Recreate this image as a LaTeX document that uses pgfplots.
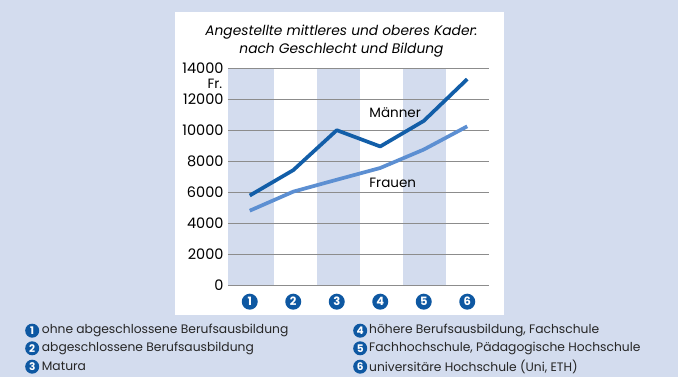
\documentclass[border=0pt]{standalone}
\usepackage{fontspec}
\setmainfont{Poppins}
\usepackage{pgfplots}
\pgfplotsset{compat=1.18}
\definecolor{bg}{RGB}{211,220,238}
\definecolor{mblue}{RGB}{18,94,168}
\definecolor{fblue}{RGB}{92,143,210}
\definecolor{cblue}{RGB}{14,88,162}
\definecolor{gridc}{RGB}{140,140,140}
\tikzset{numc/.style={circle,fill=cblue,text=white,font=\bfseries\fontsize{10.5}{10.5}\selectfont,inner sep=0pt,minimum size=14pt}}
\begin{document}
\begin{tikzpicture}[x=1pt,y=1pt]
\fill[bg] (0,0) rectangle (678,377);
\fill[white] (175,62) rectangle (504,365);
\node[font=\itshape\fontsize{13.8}{18.3}\selectfont,align=center] at (341.5,336) {Angestellte mittleres und oberes Kader:\\nach Geschlecht und Bildung};
\begin{axis}[
  at={(228pt,92pt)}, anchor=south west,
  scale only axis, width=261pt, height=216.7pt,
  xmin=0.5, xmax=6.5, ymin=0, ymax=14000,
  xtick={1,2,3,4,5,6},
  ytick={0,2000,4000,6000,8000,10000,12000,14000},
  scaled y ticks=false,
  axis line style={draw=none}, major tick length=0pt,
  /pgf/number format/assume math mode=true,
  /pgf/number format/1000 sep={},
  yticklabel style={font=\fontsize{14.5}{14.5}\selectfont, xshift=-1pt},
  xticklabel style={anchor=center, yshift=-16.7pt, circle, fill=cblue, text=white, font=\bfseries\fontsize{11.5}{11.5}\selectfont, inner sep=0pt, minimum size=16pt},
  clip=false,
]
\addplot[draw=none, fill=bg] coordinates {(0.5,0) (0.5,14000) (1.55,14000) (1.55,0)} -- cycle;
\addplot[draw=none, fill=bg] coordinates {(2.55,0) (2.55,14000) (3.53,14000) (3.53,0)} -- cycle;
\addplot[draw=none, fill=bg] coordinates {(4.52,0) (4.52,14000) (5.5,14000) (5.5,0)} -- cycle;
\pgfplotsinvokeforeach{0,2000,4000,6000,8000,10000,12000,14000}{
  \draw[gridc, line width=0.9pt] (axis cs:0.5,#1) -- (axis cs:6.5,#1);
}
\addplot[fblue, line width=3.7pt, line join=round] coordinates {(1,4800) (2,6030) (3,6800) (4,7560) (5,8750) (6,10250)};
\addplot[mblue, line width=3.7pt, line join=round] coordinates {(1,5780) (2,7420) (3,10000) (4,8950) (5,10600) (6,13300)};
\node[anchor=west, font=\fontsize{13.5}{13.5}\selectfont] at (axis cs:3.67,11111) {Männer};
\node[anchor=west, font=\fontsize{13.5}{13.5}\selectfont] at (axis cs:3.67,6589) {Frauen};
\end{axis}
\node[anchor=east, font=\fontsize{13.5}{13.5}\selectfont, inner sep=0pt] at (222.5,293) {Fr.};
\begin{scope}[every node/.append style={font=\fontsize{12.3}{12}\selectfont, anchor=west, inner sep=0pt, text=black!85}]
\node[numc] at (25,46.3) {1};
\node[numc] at (25,28.7) {2};
\node[numc] at (25,10.3) {3};
\node at (41.7,46.3) {ohne abgeschlossene Berufsausbildung};
\node at (41.7,28.7) {abgeschlossene Berufsausbildung};
\node at (41.7,10.3) {Matura};
\node[numc] at (353,46.3) {4};
\node[numc] at (353,28.7) {5};
\node[numc] at (353,10.3) {6};
\node at (369,46.3) {höhere Berufsausbildung, Fachschule};
\node at (369,28.7) {Fachhochschule, Pädagogische Hochschule};
\node at (369,10.3) {universitäre Hochschule (Uni, ETH)};
\end{scope}
\end{tikzpicture}
\end{document}
